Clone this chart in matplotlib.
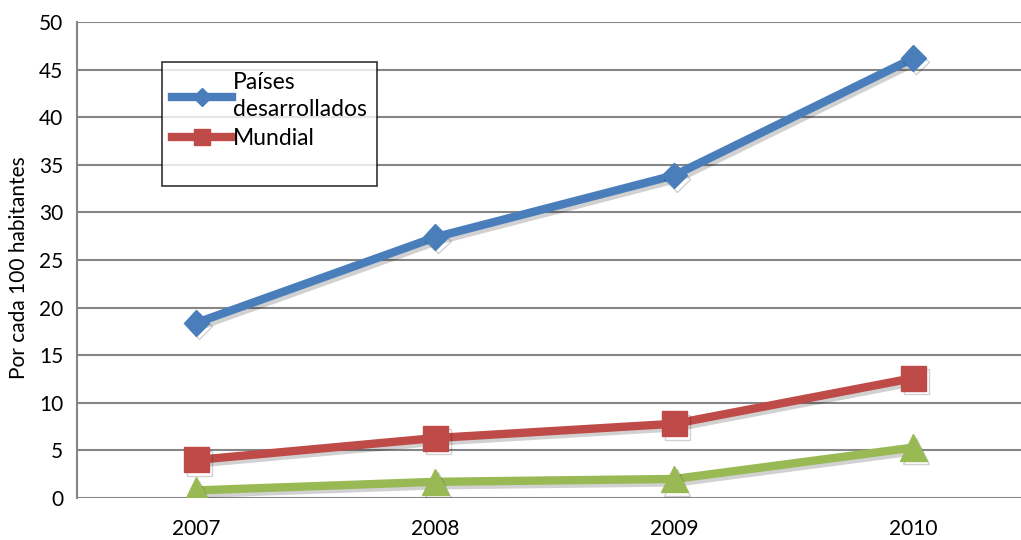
import matplotlib
matplotlib.use('Agg')
import matplotlib.pyplot as plt
import matplotlib.patheffects as pe
from matplotlib.lines import Line2D

years = ['2007', '2008', '2009', '2010']
desarrollados = [18.4, 27.4, 33.9, 46.2]
mundial = [4.0, 6.3, 7.8, 12.6]
en_desarrollo = [0.8, 1.7, 2.0, 5.3]

plt.rcParams['font.family'] = ['Lato', 'DejaVu Sans']

fig = plt.figure(figsize=(10.21, 5.4), dpi=100)
ax = fig.add_axes([77/1021, 42/540, 1 - 77/1021, 476/540])

shadow = [pe.SimpleLineShadow(offset=(2, -2.5), alpha=0.18), pe.Normal()]
x = list(range(len(years)))
ax.plot(x, desarrollados, color='#4a7ebb', lw=6, marker='D', ms=13,
        path_effects=shadow, zorder=3)
ax.plot(x, mundial, color='#be4b48', lw=6, marker='s', ms=18,
        path_effects=shadow, zorder=3)
ax.plot(x, en_desarrollo, color='#98b954', lw=6, marker='^', ms=19,
        path_effects=shadow, zorder=3)

ax.set_xlim(-0.5, 3.45)
ax.set_ylim(0, 50)
ax.set_yticks(range(0, 51, 5))
ax.set_xticks(x)
ax.set_xticklabels(years)
ax.tick_params(axis='both', length=0, labelsize=15, colors='black')
ax.tick_params(axis='y', pad=10)
ax.tick_params(axis='x', pad=15)
ax.grid(axis='y', color='#868686', lw=1.5)
ax.set_axisbelow(True)
for s in ['top', 'right', 'bottom']:
    ax.spines[s].set_visible(False)
ax.spines['left'].set_color('#868686')
ax.spines['left'].set_linewidth(1.5)

ax.set_ylabel('Por cada 100 habitantes', fontsize=15)
ax.yaxis.set_label_coords(-0.051, 0.485)

handles = [
    Line2D([], [], color='#4a7ebb', lw=6, marker='D', ms=9),
    Line2D([], [], color='#be4b48', lw=6, marker='s', ms=12),
    Line2D([], [], color='none'),
]
leg = ax.legend(handles, ['Países\ndesarrollados', 'Mundial', ' '],
                loc='upper left', bbox_to_anchor=(0.09, 0.916),
                borderaxespad=0, fontsize=16.5, frameon=True, fancybox=False,
                handlelength=2.6, handletextpad=0.05, borderpad=0.45,
                labelspacing=0.35, numpoints=1)
leg.get_frame().set_edgecolor('black')
leg.get_frame().set_linewidth(1.2)
leg.get_texts()[0].set_linespacing(1.35)
leg.get_texts()[2].set_fontsize(10)

fig.savefig('out.png', dpi=100)
